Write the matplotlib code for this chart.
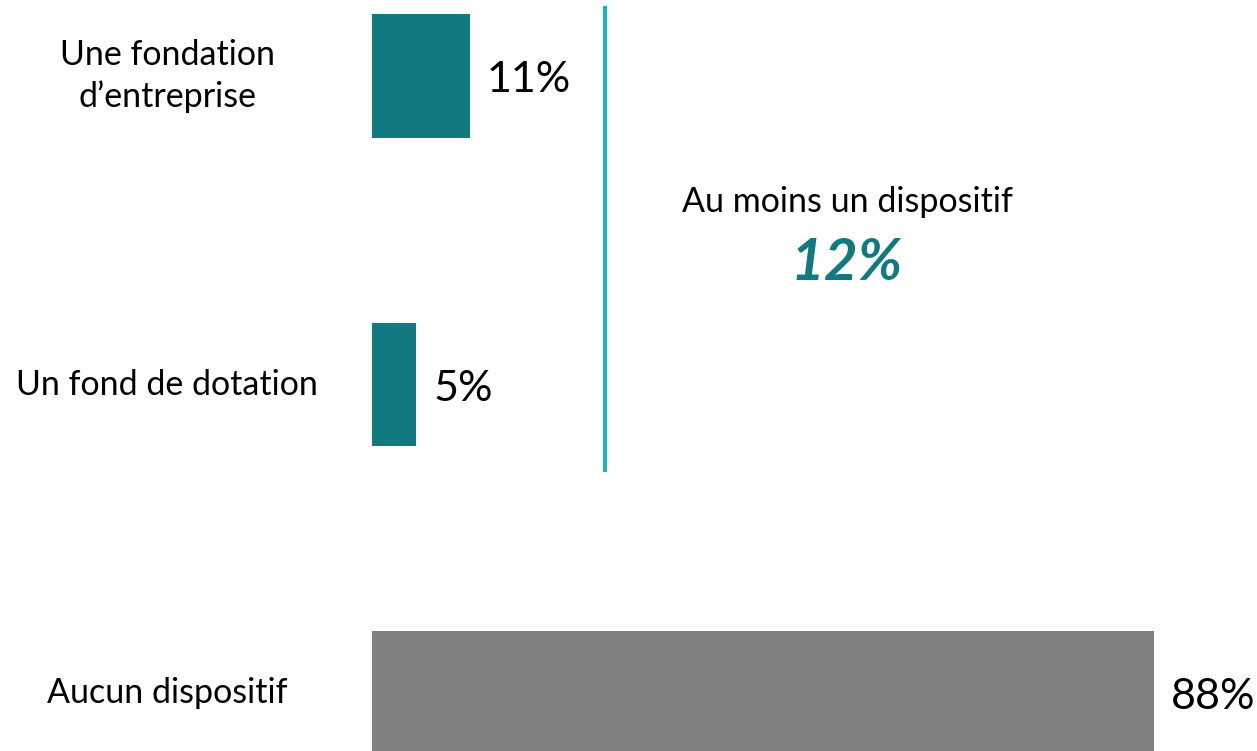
import matplotlib
matplotlib.use("Agg")
from matplotlib import pyplot as plt
import matplotlib.transforms as mtransforms

categories = ["Une fondation\nd\u2019entreprise", "Un fond de dotation", "Aucun dispositif"]
values = [11, 5, 88]
value_labels = ["11%", "5%", "88%"]
bar_colors = ["#107A80", "#107A80", "#808080"]

summary_label = "Au moins un dispositif"
summary_value = "12%"

plt.rcParams["font.family"] = ["Lato", "DejaVu Sans"]

fig = plt.figure(figsize=(12.57, 7.51), dpi=100)

# axes starts where the bars start, y scaled so bar centres land right
ax = fig.add_axes([372 / 1257, 0, 885 / 1257, 1])
ax.barh(range(len(values)), values, height=0.4, color=bar_colors)
ax.set_xlim(0, 885 / 8.886)
ax.set_ylim((751 - 76) / 308.5, -76 / 308.5)
ax.axis("off")

# value labels just right of each bar
for i, (v, lab) in enumerate(zip(values, value_labels)):
    ax.annotate(lab, (v, i), xytext=(12, -3), textcoords="offset points",
                ha="left", va="center", fontsize=31, color="black")

# category labels on the left
trans = mtransforms.blended_transform_factory(fig.transFigure, ax.transData)
for i, cat in enumerate(categories):
    ax.text(167 / 1257, i, cat, transform=trans, ha="center", va="center",
            fontsize=24.5, linespacing=1.35, clip_on=False)

# bracket line and summary
ax.axvline((605 - 372) / 8.886, ymin=1 - 470 / 751, ymax=1 - 8 / 751,
           color="#1BB5BA", linewidth=3)
fig.text(847 / 1257, 1 - 202 / 751, summary_label, ha="center", va="center",
         fontsize=24.5)
fig.text(847 / 1257, 1 - 263 / 751, summary_value, ha="center", va="center",
         fontsize=42, fontweight="bold", fontstyle="italic", color="#107A80")

plt.savefig("out.png", dpi=100)
